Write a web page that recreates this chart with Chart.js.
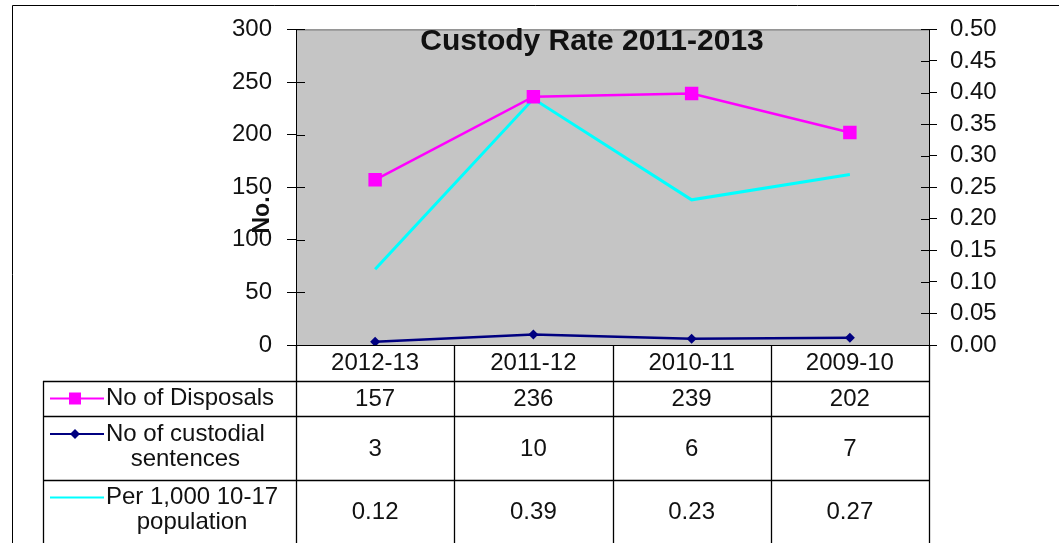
<!DOCTYPE html>
<html>
<head>
<meta charset="utf-8">
<title>Custody Rate 2011-2013</title>
<script src="https://cdn.jsdelivr.net/npm/chart.js@4.4.1/dist/chart.umd.min.js"></script>
<style>
  html, body { margin: 0; padding: 0; background: #fff; }
  canvas { display: block; }
</style>
</head>
<body>
<canvas id="custodyChart" width="1059" height="543"></canvas>
<script>
const years = ['2012-13', '2011-12', '2010-11', '2009-10'];
const disposals = [157, 236, 239, 202];
const custodial = [3, 10, 6, 7];
const per1000 = [0.12, 0.39, 0.23, 0.27];
const seriesNames = ['No of Disposals', 'No of custodial sentences', 'Per 1,000 10-17 population'];
const nameLines = [['No of Disposals'], ['No of custodial', 'sentences'], ['Per 1,000 10-17', 'population']];

const FONT = "'Liberation Sans', Arial, sans-serif";
const PINK = '#ff00ff';
const NAVY = '#000080';
const CYAN = '#00ffff';
const INK = '#111';

// horizontal rules of the data table (header bottom, row bottoms)
const tableRows = [381, 416, 480, 543];
const tableLeft = 43;

function drawKey(ctx, y, color, style) {
  ctx.strokeStyle = color;
  ctx.lineWidth = 2;
  ctx.beginPath();
  ctx.moveTo(50, y);
  ctx.lineTo(104, y);
  ctx.stroke();
  ctx.fillStyle = color;
  if (style === 'rect') {
    ctx.fillRect(69, y - 6, 12, 12);
  } else if (style === 'rectRot') {
    ctx.beginPath();
    ctx.moveTo(75, y - 5);
    ctx.lineTo(80, y);
    ctx.lineTo(75, y + 5);
    ctx.lineTo(70, y);
    ctx.closePath();
    ctx.fill();
  }
}

const custodyDecor = {
  id: 'custodyDecor',
  beforeDraw(chart) {
    const {ctx, chartArea: a} = chart;
    ctx.save();
    ctx.fillStyle = '#fff';
    ctx.fillRect(0, 0, chart.width, chart.height);
    // outer frame
    ctx.strokeStyle = '#000';
    ctx.lineWidth = 1;
    ctx.beginPath();
    ctx.moveTo(12.5, chart.height);
    ctx.lineTo(12.5, 5.5);
    ctx.lineTo(chart.width, 5.5);
    ctx.stroke();
    // plot area
    ctx.fillStyle = '#c5c5c5';
    ctx.fillRect(a.left, a.top, a.right - a.left, a.bottom - a.top);
    ctx.strokeStyle = '#6a6a6a';
    ctx.beginPath();
    ctx.moveTo(a.left, a.top + 0.5);
    ctx.lineTo(a.right, a.top + 0.5);
    ctx.stroke();
    ctx.restore();
  },
  beforeDatasetsDraw(chart) {
    const {ctx, chartArea: a, scales} = chart;
    ctx.save();
    // inner halves of the axis tick marks
    ctx.strokeStyle = '#000';
    ctx.lineWidth = 1;
    ctx.beginPath();
    scales.y.ticks.forEach(t => {
      const py = Math.round(scales.y.getPixelForValue(t.value)) + 0.5;
      ctx.moveTo(a.left, py);
      ctx.lineTo(a.left + 9, py);
    });
    scales.y1.ticks.forEach(t => {
      const py = Math.round(scales.y1.getPixelForValue(t.value)) + 0.5;
      ctx.moveTo(a.right - 8, py);
      ctx.lineTo(a.right, py);
    });
    ctx.stroke();

    // chart title inside the plot area
    ctx.fillStyle = INK;
    ctx.font = 'bold 30px ' + FONT;
    ctx.textAlign = 'center';
    ctx.textBaseline = 'middle';
    ctx.fillText('Custody Rate 2011-2013', 592, 42);

    // left axis title
    ctx.translate(263, 215);
    ctx.rotate(-Math.PI / 2);
    ctx.font = 'bold 23px ' + FONT;
    ctx.fillText('No.', 0, 0);
    ctx.restore();
  },
  afterDraw(chart) {
    const {ctx, chartArea: a, scales} = chart;
    const x = scales.x;
    const centers = years.map((_, i) => x.getPixelForValue(i));
    const half = (centers[1] - centers[0]) / 2;
    const edges = [a.left, ...centers.map(c => c + half)];
    const bottom = tableRows[tableRows.length - 1];

    ctx.save();
    ctx.strokeStyle = '#000';
    ctx.lineWidth = 1.3;
    ctx.beginPath();
    edges.forEach(e => {
      const px = Math.round(e) + 0.5;
      ctx.moveTo(px, a.bottom);
      ctx.lineTo(px, bottom);
    });
    ctx.moveTo(tableLeft + 0.5, tableRows[0]);
    ctx.lineTo(tableLeft + 0.5, bottom);
    tableRows.slice(0, 3).forEach(r => {
      ctx.moveTo(tableLeft, r + 0.5);
      ctx.lineTo(a.right + 1, r + 0.5);
    });
    ctx.stroke();

    const rows = [
      {values: disposals.map(String), color: PINK, style: 'rect'},
      {values: custodial.map(String), color: NAVY, style: 'rectRot'},
      {values: per1000.map(v => v.toFixed(2)), color: CYAN, style: 'none'}
    ];

    ctx.font = '24px ' + FONT;
    ctx.textBaseline = 'middle';
    rows.forEach((row, r) => {
      const top = tableRows[r];
      const mid = (top + tableRows[r + 1]) / 2;
      const lines = nameLines[r];
      const lineYs = lines.length === 1 ? [mid] : [mid - 14, mid + 11];

      drawKey(ctx, lineYs[0], row.color, row.style);

      ctx.fillStyle = INK;
      const widest = Math.max(...lines.map(l => ctx.measureText(l).width));
      ctx.textAlign = 'center';
      lines.forEach((l, k) => ctx.fillText(l, 106 + widest / 2, lineYs[k]));

      row.values.forEach((v, i) => ctx.fillText(v, centers[i], mid + 1));
    });
    ctx.restore();
  }
};

new Chart(document.getElementById('custodyChart'), {
  type: 'line',
  data: {
    labels: years,
    datasets: [
      {
        label: seriesNames[0],
        data: disposals,
        yAxisID: 'y',
        borderColor: PINK,
        backgroundColor: PINK,
        borderWidth: 2.5,
        pointStyle: 'rect',
        pointRadius: 9.5,
        pointBorderWidth: 0
      },
      {
        label: seriesNames[1],
        data: custodial,
        yAxisID: 'y',
        borderColor: NAVY,
        backgroundColor: NAVY,
        borderWidth: 2.5,
        pointStyle: 'rectRot',
        pointRadius: 5,
        pointBorderWidth: 0
      },
      {
        label: seriesNames[2],
        data: per1000,
        yAxisID: 'y1',
        borderColor: CYAN,
        backgroundColor: CYAN,
        borderWidth: 3,
        pointRadius: 0
      }
    ]
  },
  options: {
    responsive: false,
    animation: false,
    layout: { padding: { left: 0, right: 0, top: 19, bottom: 162 } },
    plugins: { legend: { display: false }, tooltip: { enabled: false } },
    elements: { line: { tension: 0 } },
    scales: {
      x: {
        offset: true,
        grid: { display: false, drawTicks: false },
        border: { display: true, color: '#000', width: 1 },
        ticks: { color: INK, font: { family: FONT, size: 24 }, padding: 4, maxRotation: 0 },
        afterFit(scale) { scale.height = 36; }
      },
      y: {
        position: 'left',
        min: 0,
        max: 300,
        grid: { drawOnChartArea: false, color: '#000', tickLength: 9 },
        border: { display: true, color: '#000', width: 1 },
        ticks: { stepSize: 50, autoSkip: false, color: INK, font: { family: FONT, size: 24 }, padding: 15 },
        afterFit(scale) { scale.width = 296; }
      },
      y1: {
        position: 'right',
        min: 0,
        max: 0.5,
        grid: { drawOnChartArea: false, color: '#000', tickLength: 8 },
        border: { display: true, color: '#000', width: 1 },
        ticks: {
          stepSize: 0.05,
          autoSkip: false,
          color: INK,
          font: { family: FONT, size: 24 },
          padding: 13,
          callback: v => Number(v).toFixed(2)
        },
        afterFit(scale) { scale.width = 130; }
      }
    }
  },
  plugins: [custodyDecor]
});
</script>
</body>
</html>
